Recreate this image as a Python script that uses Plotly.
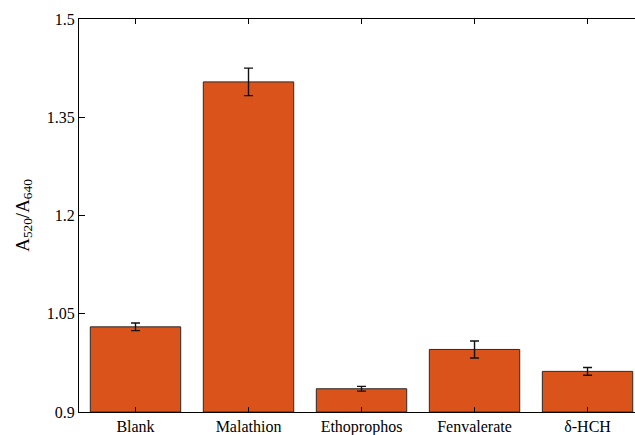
import plotly.graph_objects as go

# Absorbance ratio per analyte, with standard deviation
categories = ["Blank", "Malathion", "Ethoprophos", "Fenvalerate", "δ-HCH"]
ratios = [1.030, 1.404, 0.9355, 0.9955, 0.962]
errors = [0.0058, 0.021, 0.0036, 0.013, 0.006]
y_ticks = [0.9, 1.05, 1.2, 1.35, 1.5]
y_floor = 0.9

FONT = "Liberation Serif, Times New Roman, serif"

fig = go.Figure(
    go.Bar(
        x=categories,
        y=[v - y_floor for v in ratios],
        base=y_floor,
        marker=dict(color="#D9531A", line=dict(color="#2a2a2a", width=1)),
        error_y=dict(type="data", array=errors, visible=True,
                     color="#111111", thickness=1.4, width=4.5),
        width=0.8,
    )
)

fig.update_layout(
    width=635,
    height=435,
    margin=dict(l=79, r=0, t=19, b=23),
    paper_bgcolor="white",
    plot_bgcolor="white",
    showlegend=False,
    font=dict(family=FONT, size=16, color="black"),
)
fig.update_xaxes(
    range=[-0.5, 4.42],
    showline=True, linecolor="black", linewidth=1.3,
    mirror="ticks", ticks="inside", ticklen=5, tickcolor="black",
    tickfont=dict(family=FONT, size=16),
    showgrid=False,
)
fig.update_yaxes(
    range=[0.9, 1.5],
    tickvals=y_ticks,
    ticktext=[f"{v:g}" for v in y_ticks],
    showline=True, linecolor="black", linewidth=1.3,
    mirror=False, ticks="inside", ticklen=6, tickcolor="black",
    tickfont=dict(family=FONT, size=16),
    showgrid=False, zeroline=False,
    title=dict(text="A<sub>520</sub>/A<sub>640</sub>", standoff=12,
               font=dict(family=FONT, size=19)),
)

fig.write_html("out.html")
